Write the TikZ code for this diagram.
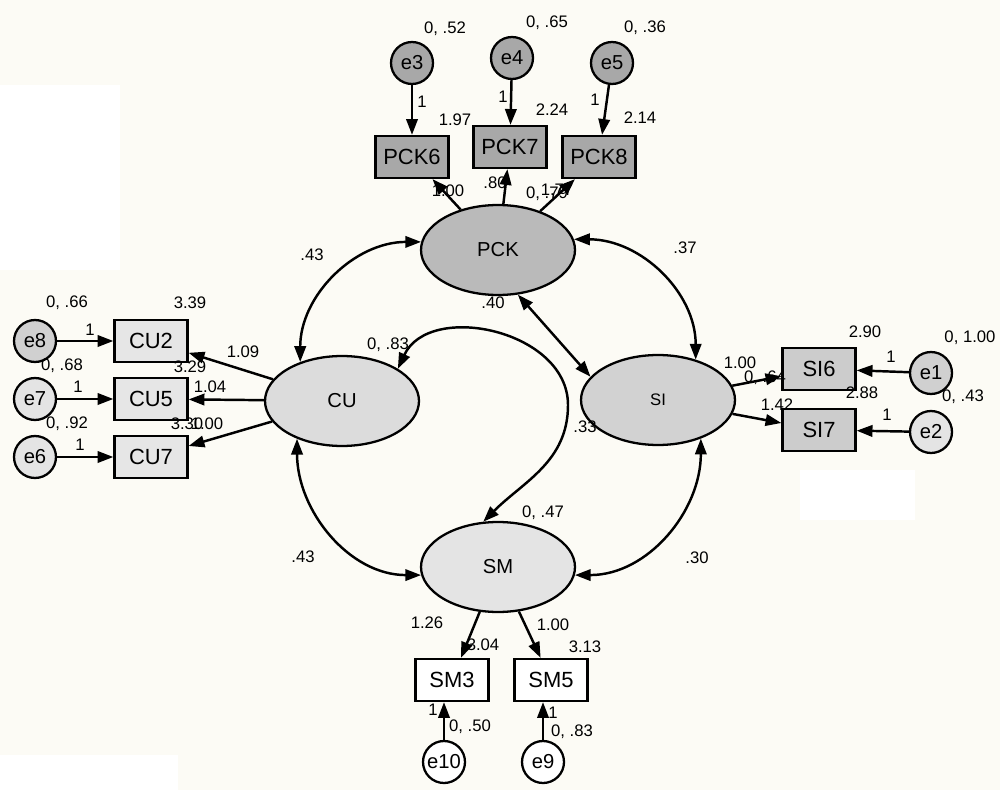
\documentclass[tikz,border=0pt]{standalone}
\usepackage{fontspec}
\setmainfont{Liberation Sans}
\usetikzlibrary{arrows.meta,shapes.geometric}
\definecolor{papercolor}{RGB}{252,251,245}
\definecolor{pckcolor}{RGB}{168,168,168}
\definecolor{pcklatent}{RGB}{186,186,186}
\definecolor{cucolor}{RGB}{230,230,230}
\definecolor{culatent}{RGB}{220,220,220}
\definecolor{sicolor}{RGB}{204,204,204}
\definecolor{silatent}{RGB}{210,210,210}
\definecolor{smlatent}{RGB}{228,228,228}
\definecolor{errgray}{RGB}{208,208,208}
\definecolor{errlight}{RGB}{228,228,228}

\begin{document}
\begin{tikzpicture}[x=0.02cm, y=-0.02cm,
    latent/.style={ellipse, draw, line width=1.3pt, minimum width=3.08cm, minimum height=1.8cm, inner sep=0pt, font=\fontsize{11.5}{12}\selectfont},
    observed/.style={rectangle, draw, line width=1.3pt, minimum width=1.46cm, minimum height=0.84cm, inner sep=0pt, font=\fontsize{12.5}{13}\selectfont},
    errnode/.style={circle, draw, line width=1.3pt, minimum size=0.84cm, inner sep=0pt, font=\fontsize{11.5}{12}\selectfont},
    num/.style={inner sep=0pt, font=\fontsize{9.5}{10}\selectfont},
    load/.style={-{Triangle[length=9pt,width=6.5pt]}, line width=1.4pt},
    cov/.style={{Triangle[length=9pt,width=6.5pt]}-{Triangle[length=9pt,width=6.5pt]}, line width=1.4pt}]
    % Paper
    \useasboundingbox (0,0) rectangle (1000,790);
    \fill[papercolor] (0,0) rectangle (1000,790);
    \fill[white] (0,85) rectangle (120,270);
    \fill[white] (800,470) rectangle (915,520);
    \fill[white] (0,755) rectangle (178,790);

    % Latent factors
    \node[latent, fill=pcklatent] (PCK) at (498,250) {PCK};
    \node[latent, fill=culatent] (CU) at (342,401) {CU};
    \node[latent, fill=silatent, font=\fontsize{9.5}{10}\selectfont] (SI) at (658,400) {SI};
    \node[latent, fill=smlatent] (SM) at (498,567) {SM};

    % PCK indicators
    \foreach \e/\b/\ex/\ey/\bx/\by in {e3/PCK6/412/63/412/157, e4/PCK7/512/58/510/147, e5/PCK8/612/63/599/157} {
        \node[errnode, fill=pckcolor] (\e) at (\ex,\ey) {\e};
        \node[observed, fill=pckcolor] (\b) at (\bx,\by) {\b};
        \draw[load] (\e) -- (\b);
        \draw[load] (PCK) -- (\b);
    }
    \node[num] (v3) at (445,29) {0, .52};
    \node[num] (v4) at (547,23) {0, .65};
    \node[num] (v5) at (645,28) {0, .36};
    \node[num] (one3) at (422,102) {1};
    \node[num] (one4) at (503,97) {1};
    \node[num] (one5) at (595,100) {1};
    \node[num] (i6) at (455,120) {1.97};
    \node[num] (i7) at (552,110) {2.24};
    \node[num] (i8) at (640,118) {2.14};
    \node[num] (w6) at (448,191) {1.00};
    \node[num] (w7) at (495,183) {.80};
    \node[num] (vPCK) at (547,194) {0, .79};
    \node[num] (w8) at (557,190) {1.77};

    % CU indicators
    \foreach \e/\b/\y/\c in {e8/CU2/341/errgray, e7/CU5/399/errlight, e6/CU7/457/errlight} {
        \node[errnode, fill=\c] (\e) at (35,\y) {\e};
        \node[observed, fill=cucolor] (\b) at (151,\y) {\b};
        \draw[load] (\e) -- (\b);
        \draw[load] (CU) -- (\b);
    }
    \node[num] (v8) at (67,303) {0, .66};
    \node[num] (i2) at (190,303) {3.39};
    \node[num] (one8) at (90,330) {1};
    \node[num] (v7) at (62,366) {0, .68};
    \node[num] (i5) at (190,367) {3.29};
    \node[num] (w2) at (243,352) {1.09};
    \node[num] (one7) at (78,387) {1};
    \node[num] (w5) at (210,387) {1.04};
    \node[num] (v6) at (67,424) {0, .92};
    \node[num] (i7c) at (187,424) {3.30};
    \node[num] (w7c) at (207,424) {1.00};
    \node[num] (one6) at (80,445) {1};
    \node[num] (vCU) at (388,345) {0, .83};

    % SI indicators
    \foreach \e/\b/\ey/\by/\c in {e1/SI6/373/369/errgray, e2/SI7/432/430/errlight} {
        \node[errnode, fill=\c] (\e) at (931,\ey) {\e};
        \node[observed, fill=sicolor] (\b) at (819,\by) {\b};
        \draw[load] (\e) -- (\b);
        \draw[load] (SI) -- (\b);
    }
    \node[num] (i6s) at (865,332) {2.90};
    \node[num] (v1) at (970,338) {0, 1.00};
    \node[num] (one1) at (891,357) {1};
    \node[num] (w6s) at (740,363) {1.00};
    \node[num] (vSI) at (765,378) {0, .64};
    \node[num] (i7s) at (862,393) {2.88};
    \node[num] (v2) at (963,397) {0, .43};
    \node[num] (w7s) at (777,405) {1.42};
    \node[num] (one2) at (887,415) {1};

    % SM indicators
    \foreach \e/\b/\x in {e10/SM3/444, e9/SM5/543} {
        \node[observed, fill=white] (\b) at (\x+8,680) {\b};
        \node[errnode, fill=white] (\e) at (\x,762) {\e};
        \draw[load] (\e) -- (\e |- \b.south);
        \draw[load] (SM) -- (\b);
    }
    \node[num] (w3) at (427,623) {1.26};
    \node[num] (i3) at (483,645) {3.04};
    \node[num] (w5m) at (553,625) {1.00};
    \node[num] (i5m) at (585,647) {3.13};
    \node[num] (one10) at (433,710) {1};
    \node[num] (v10) at (470,727) {0, .50};
    \node[num] (one9) at (553,713) {1};
    \node[num] (v9) at (572,732) {0, .83};
    \node[num] (vSM) at (543,513) {0, .47};

    % Covariances
    \draw[cov] (PCK.174) to[out=180, in=90] (CU.137);
    \draw[cov] (PCK.8) to[out=0, in=90] (SI.47);
    \draw[cov] (CU.-140) to[out=-90, in=180] (SM.186);
    \draw[cov] (SI.-42) to[out=-90, in=0] (SM.-6);
    \draw[cov] (PCK.-66) -- (SI.161);
    \coordinate (loopR) at (568,405);
    \draw[cov] (CU.30) to[out=65, in=90, looseness=1.1] (loopR) to[out=-90, in=45] (SM.108);
    \node[num] (c1) at (312,255) {.43};
    \node[num] (c2) at (685,248) {.37};
    \node[num] (c3) at (493,303) {.40};
    \node[num] (c4) at (585,427) {.33};
    \node[num] (c5) at (303,557) {.43};
    \node[num] (c6) at (697,558) {.30};
\end{tikzpicture}
\end{document}
